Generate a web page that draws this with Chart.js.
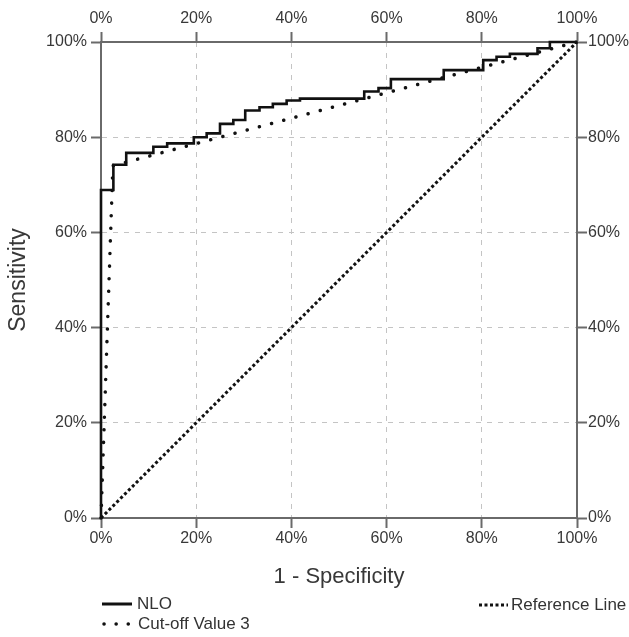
<!DOCTYPE html>
<html>
<head>
<meta charset="utf-8">
<script src="https://cdn.jsdelivr.net/npm/chart.js@4.4.1/dist/chart.umd.min.js"></script>
<style>
  body { margin: 0; background: #fff; font-family: 'Liberation Sans', Arial, sans-serif; }
  #wrap { position: relative; width: 629px; height: 637px; }
  #rocChart { position: absolute; left: 0; top: 0; }
  .lg { position: absolute; font-size: 17px; color: #333; line-height: 17px; white-space: nowrap; }
  #legendLines { position: absolute; left: 0; top: 0; }
</style>
</head>
<body>
<div id="wrap">
  <canvas id="rocChart" width="629" height="637"></canvas>
  <svg id="legendLines" width="629" height="637">
    <line x1="102" y1="604" x2="132" y2="604" stroke="#111" stroke-width="3"></line>
    <line x1="104" y1="624" x2="132" y2="624" stroke="#111" stroke-width="3.5" stroke-linecap="round" stroke-dasharray="0.1 12"></line>
    <line x1="479" y1="605" x2="508" y2="605" stroke="#111" stroke-width="3" stroke-dasharray="3 2.5"></line>
  </svg>
  <div class="lg" style="left:137px; top:595px;">NLO</div>
  <div class="lg" style="left:138px; top:615px;">Cut-off Value 3</div>
  <div class="lg" style="left:511px; top:596px;">Reference Line</div>
</div>
<script>
  // ROC curve values (percent)
  const nloFpr = [0, 0, 2.6, 5.3, 11, 13.9, 19.5, 22.2, 25, 27.8, 30.3, 33.3, 36.1, 39, 41.8, 55.3, 58.3, 60.9, 72, 80.3, 83.1, 85.9, 91.7, 94.3, 100];
  const nloTpr = [0, 68.9, 74.2, 76.7, 78.0, 78.7, 80.0, 80.8, 82.8, 83.6, 85.6, 86.3, 87.0, 87.7, 88.1, 89.6, 90.3, 92.2, 94.1, 96.2, 96.9, 97.5, 98.7, 100, 100];

  const cutoffFpr = [0, 2.5, 100];
  const cutoffTpr = [0, 74, 100];

  const refFpr = [0, 100];
  const refTpr = [0, 100];

  const tickValues = [0, 20, 40, 60, 80, 100];

  const FONT = "'Liberation Sans', Arial, sans-serif";
  const AXIS_GRAY = '#6a6a6a';
  const TEXT = '#383838';

  function toPoints(xs, ys) {
    return xs.map((x, i) => ({ x: x, y: ys[i] }));
  }

  function gridColor(ctx) {
    const v = ctx.tick ? ctx.tick.value : null;
    return (v === 0 || v === 100) ? 'rgba(0,0,0,0)' : '#c4c4c4';
  }

  function axis(position, size, padding, extra) {
    const horizontal = position === 'top' || position === 'bottom';
    return Object.assign({
      type: 'linear',
      position: position,
      min: 0,
      max: 100,
      afterBuildTicks: s => { s.ticks = tickValues.map(v => ({ value: v })); },
      afterFit: s => { if (horizontal) s.height = size; else s.width = size; },
      ticks: {
        padding: padding,
        color: TEXT,
        font: { family: FONT, size: 16 },
        maxRotation: 0,
        callback: v => v + '%'
      },
      border: { display: true, color: AXIS_GRAY, width: 2, dash: [5, 6] },
      grid: {
        color: gridColor,
        lineWidth: 1,
        tickColor: AXIS_GRAY,
        tickWidth: 2,
        tickLength: 10,
        tickBorderDash: []
      }
    }, extra || {});
  }

  const ctx = document.getElementById('rocChart').getContext('2d');

  const rocChart = new Chart(ctx, {
    type: 'line',
    data: {
      datasets: [
        {
          label: 'NLO',
          data: toPoints(nloFpr, nloTpr),
          borderColor: '#111',
          borderWidth: 2.6,
          stepped: 'before',
          pointRadius: 0,
          clip: 6
        },
        {
          label: 'Cut-off Value 3',
          data: toPoints(cutoffFpr, cutoffTpr),
          borderColor: '#111',
          borderWidth: 3.5,
          borderDash: [0.1, 12.5],
          borderCapStyle: 'round',
          pointRadius: 0,
          clip: 6
        },
        {
          label: 'Reference Line',
          data: toPoints(refFpr, refTpr),
          borderColor: '#111',
          borderWidth: 3,
          borderDash: [3, 2.5],
          pointRadius: 0,
          clip: 6
        }
      ]
    },
    options: {
      responsive: false,
      animation: false,
      layout: { padding: 0 },
      plugins: {
        legend: { display: false },
        tooltip: { enabled: false }
      },
      scales: {
        x: axis('bottom', 119, 1, {
          title: {
            display: true,
            text: '1 - Specificity',
            color: TEXT,
            font: { family: FONT, size: 22 },
            padding: { top: 0, bottom: 47 }
          }
        }),
        x2: axis('top', 42, 4, {
          grid: { drawOnChartArea: false, tickColor: AXIS_GRAY, tickWidth: 2, tickLength: 10 }
        }),
        y: axis('left', 101, 4, {
          title: {
            display: true,
            text: 'Sensitivity',
            color: TEXT,
            font: { family: FONT, size: 23 },
            padding: { top: 5, bottom: 0 }
          }
        }),
        y2: axis('right', 52, 1, {
          grid: { drawOnChartArea: false, tickColor: AXIS_GRAY, tickWidth: 2, tickLength: 10 }
        })
      }
    }
  });
</script>
</body>
</html>
